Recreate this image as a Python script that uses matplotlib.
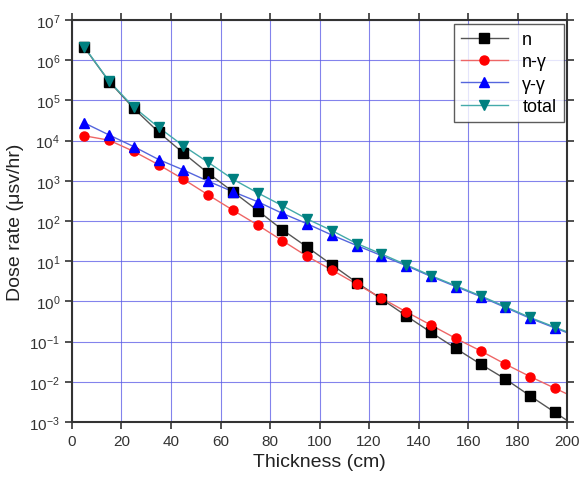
import numpy as np
import matplotlib
matplotlib.use('Agg')
from matplotlib import pyplot as plt

plt.rcParams['font.family'] = ['Liberation Sans', 'DejaVu Sans']

# 데이터 (log10 값으로 읽음)
thickness = [5, 15, 25, 35, 45, 55, 65, 75, 85, 95,
             105, 115, 125, 135, 145, 155, 165, 175, 185, 195]
log_n = [6.32, 5.47, 4.80, 4.21, 3.69, 3.19, 2.73, 2.26, 1.78, 1.35,
         0.91, 0.47, 0.06, -0.36, -0.77, -1.17, -1.56, -1.93, -2.35, -2.76]
log_ng = [4.12, 4.01, 3.73, 3.40, 3.04, 2.65, 2.27, 1.90, 1.51, 1.12,
          0.78, 0.43, 0.08, -0.26, -0.59, -0.92, -1.23, -1.56, -1.87, -2.16]
log_gg = [4.44, 4.14, 3.85, 3.53, 3.27, 2.99, 2.73, 2.48, 2.19, 1.93,
          1.65, 1.39, 1.14, 0.89, 0.62, 0.37, 0.12, -0.15, -0.42, -0.66]
log_total = [6.33, 5.48, 4.83, 4.33, 3.87, 3.46, 3.04, 2.70, 2.38, 2.05,
             1.76, 1.44, 1.18, 0.91, 0.64, 0.39, 0.14, -0.13, -0.40, -0.64]

series = [
    ('n', log_n, 's', 'black', '#555555'),
    ('n-γ', log_ng, 'o', 'red', '#ee6666'),
    ('γ-γ', log_gg, '^', 'blue', '#5566dd'),
    ('total', log_total, 'v', '#008080', '#44aaaa'),
]

fig = plt.figure(figsize=(5.8, 4.81), dpi=100)
ax = fig.add_axes([0.124, 0.1206, 0.854, 0.8357])

x = np.array(thickness, dtype=float)
for label, logv, mk, mc, lc in series:
    y = 10 ** np.array(logv)
    # 마지막 두 점으로 끝까지 선 연장
    slope = (logv[-1] - logv[-2]) / (x[-1] - x[-2])
    x_ext = np.append(x, 210)
    y_ext = np.append(y, 10 ** (logv[-1] + slope * (210 - x[-1])))
    ax.plot(x_ext, y_ext, '-', color=lc, lw=1.0, zorder=2)
    ax.plot(x, y, mk, color=mc, ms=6.5, zorder=3)
    ax.plot([], [], '-', marker=mk, color=lc, mfc=mc, mec=mc, ms=6.5, lw=1.0, label=label)

ax.set_yscale('log')
ax.set_xlim(0, 200)
ax.set_ylim(1e-3, 1e7)
ax.set_xticks(np.arange(0, 201, 20))
ax.set_yticks([10.0 ** k for k in range(-3, 8)])
ax.minorticks_off()
ax.grid(True, color='#5a5ae6', lw=0.8, alpha=0.75)
ax.set_axisbelow(True)

ax.tick_params(direction='out', length=5, width=1.2, labelsize=11, colors='#333333',
               top=True, right=True, labeltop=False, labelright=False)
for s in ax.spines.values():
    s.set_linewidth(1.5)
    s.set_color('#333333')

ax.set_xlabel('Thickness (cm)', fontsize=14, color='#222222')
ax.set_ylabel('Dose rate (μsv/hr)', fontsize=14, color='#222222')

leg = ax.legend(loc='upper right', fontsize=13, handlelength=2.6, frameon=True,
                fancybox=False, edgecolor='#333333', borderpad=0.4, labelspacing=0.3,
                borderaxespad=0.2)
leg.get_frame().set_linewidth(1.0)

plt.savefig('out.png', dpi=100)
